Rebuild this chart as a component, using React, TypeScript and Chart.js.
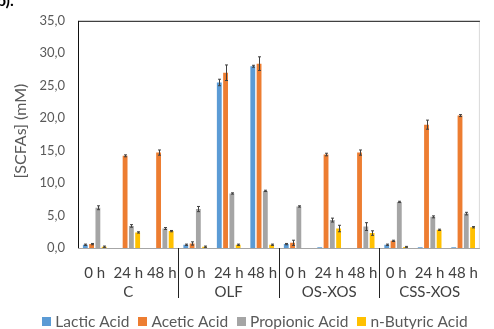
import React, { useEffect, useRef } from "react";
import { Chart, registerables } from "chart.js";

Chart.register(...registerables);

const timeLabels = ["0 h", "24 h", "48 h", "0 h", "24 h", "48 h", "0 h", "24 h", "48 h", "0 h", "24 h", "48 h"];
const groups = ["C", "OLF", "OS-XOS", "CSS-XOS"];
const yTicks = [0, 5, 10, 15, 20, 25, 30, 35];

const lactic = [0.5, 0, 0, 0.5, 25.5, 28.0, 0.6, 0.1, 0, 0.5, 0.1, 0.1];
const acetic = [0.6, 14.2, 14.7, 0.7, 27.0, 28.4, 0.8, 14.4, 14.7, 1.1, 19.0, 20.4];
const propionic = [6.2, 3.4, 3.0, 6.0, 8.4, 8.8, 6.4, 4.3, 3.3, 7.1, 4.8, 5.3];
const butyric = [0.2, 2.4, 2.6, 0.2, 0.5, 0.5, 0, 3.0, 2.3, 0.15, 2.8, 3.2];

const lacticErr = [0.1, 0, 0, 0.1, 0.5, 0.15, 0.1, 0, 0, 0.1, 0, 0];
const aceticErr = [0.1, 0.15, 0.4, 0.25, 1.2, 1.05, 0.4, 0.2, 0.4, 0.1, 0.7, 0.15];
const propionicErr = [0.3, 0.2, 0.15, 0.4, 0.1, 0.1, 0.1, 0.3, 0.6, 0.1, 0.15, 0.2];
const butyricErr = [0.1, 0.1, 0.1, 0.1, 0.1, 0.1, 0, 0.5, 0.35, 0.1, 0.1, 0.1];

const seriesNames = ["Lactic Acid", "Acetic Acid", "Propionic Acid", "n-Butyric Acid"];
const seriesColors = ["#5B9BD5", "#ED7D31", "#A5A5A5", "#FFC000"];

const FONT = "Lato, 'Open Sans', sans-serif";

const overlayPlugin = {
  id: "overlay",
  afterDatasetsDraw(chart: any) {
    const ctx = chart.ctx;
    const y = chart.scales.y;
    const errs = [lacticErr, aceticErr, propionicErr, butyricErr];
    ctx.save();
    ctx.strokeStyle = "#404040";
    ctx.lineWidth = 1;
    chart.data.datasets.forEach((ds: any, di: number) => {
      const meta = chart.getDatasetMeta(di);
      meta.data.forEach((el: any, i: number) => {
        const e = errs[di][i];
        const v = ds.data[i];
        if (!e) return;
        const x = Math.round(el.x) + 0.5;
        const yt = y.getPixelForValue(v + e);
        const yb = y.getPixelForValue(Math.max(0, v - e));
        ctx.beginPath();
        ctx.moveTo(x, yt);
        ctx.lineTo(x, yb);
        ctx.moveTo(x - 1.5, yt);
        ctx.lineTo(x + 1.5, yt);
        ctx.moveTo(x - 1.5, yb);
        ctx.lineTo(x + 1.5, yb);
        ctx.stroke();
      });
    });
    ctx.restore();
  },
  afterDraw(chart: any) {
    const ctx = chart.ctx;
    const a = chart.chartArea;
    ctx.save();
    ctx.lineWidth = 1;
    ctx.strokeStyle = "#d9d9d9";
    ctx.beginPath();
    ctx.moveTo(a.right - 0.5, a.top);
    ctx.lineTo(a.right - 0.5, a.bottom);
    ctx.stroke();
    ctx.strokeStyle = "#111";
    ctx.beginPath();
    ctx.moveTo(a.left + 0.5, a.top + 0.5);
    ctx.lineTo(a.right, a.top + 0.5);
    ctx.moveTo(a.left + 0.5, a.top);
    ctx.lineTo(a.left + 0.5, a.bottom);
    ctx.stroke();
    ctx.strokeStyle = "#a6a6a6";
    ctx.beginPath();
    ctx.moveTo(a.left, a.bottom + 0.5);
    ctx.lineTo(a.right, a.bottom + 0.5);
    ctx.stroke();

    const gw = (a.right - a.left) / groups.length;
    ctx.strokeStyle = "#222";
    for (let k = 1; k < groups.length; k++) {
      const x = Math.round(a.left + k * gw) + 0.5;
      ctx.beginPath();
      ctx.moveTo(x, a.bottom);
      ctx.lineTo(x, a.bottom + 50);
      ctx.stroke();
    }
    ctx.fillStyle = "#404040";
    ctx.font = `15px ${FONT}`;
    ctx.textAlign = "center";
    ctx.textBaseline = "middle";
    groups.forEach((g, k) => {
      ctx.fillText(g, a.left + (k + 0.5) * gw, 292);
    });

    ctx.save();
    ctx.translate(21, 131);
    ctx.rotate(-Math.PI / 2);
    ctx.fillStyle = "#595959";
    ctx.font = `16px ${FONT}`;
    ctx.fillText("[SCFAs] (mM)", 0, 0);
    ctx.restore();

    ctx.font = `15.5px ${FONT}`;
    const box = 9;
    const gapBox = 4;
    const gapItem = 9;
    const widths = seriesNames.map((n) => ctx.measureText(n).width);
    const total = widths.reduce((s, w) => s + box + gapBox + w, 0) + gapItem * (seriesNames.length - 1);
    let x = 255 - total / 2;
    const ly = 322;
    ctx.textAlign = "left";
    ctx.textBaseline = "middle";
    seriesNames.forEach((n, i) => {
      ctx.fillStyle = seriesColors[i];
      ctx.fillRect(Math.round(x), ly - 5, box, box);
      x += box + gapBox;
      ctx.fillStyle = "#595959";
      ctx.fillText(n, x, ly);
      x += widths[i] + gapItem;
    });

    ctx.fillStyle = "#000";
    ctx.font = `bold 16px ${FONT}`;
    ctx.textAlign = "left";
    ctx.textBaseline = "alphabetic";
    ctx.fillText("b).", -3, 6);
    ctx.restore();
  },
};

export default function App() {
  const ref = useRef<HTMLCanvasElement>(null);
  useEffect(() => {
    const datasets = [lactic, acetic, propionic, butyric].map((d, i) => ({
      label: seriesNames[i],
      data: d,
      backgroundColor: seriesColors[i],
      borderWidth: 0,
      categoryPercentage: 0.75,
      barPercentage: 0.77,
    }));
    const chart = new Chart(ref.current as HTMLCanvasElement, {
      type: "bar",
      data: { labels: timeLabels, datasets },
      options: {
        animation: false,
        responsive: false,
        devicePixelRatio: 1,
        layout: { padding: { top: 20, right: 1, left: 0, bottom: 0 } },
        plugins: { legend: { display: false }, tooltip: { enabled: false } },
        scales: {
          x: {
            grid: { display: false, drawTicks: false },
            border: { display: false },
            ticks: {
              font: { family: FONT, size: 15 },
              color: "#404040",
              padding: 16,
              maxRotation: 0,
              autoSkip: false,
            },
            afterFit: (s: any) => {
              s.height = 81;
            },
          },
          y: {
            min: 0,
            max: 35,
            grid: { display: false, drawTicks: false },
            border: { display: false },
            afterBuildTicks: (s: any) => {
              s.ticks = yTicks.map((v) => ({ value: v }));
            },
            ticks: {
              font: { family: FONT, size: 13 },
              color: "#595959",
              padding: 13,
              callback: (v: any) => Number(v).toFixed(1).replace(".", ","),
            },
            afterFit: (s: any) => {
              s.width = 78;
            },
          },
        },
      },
      plugins: [overlayPlugin],
    });
    return () => chart.destroy();
  }, []);
  return (
    <div style={{ position: "fixed", left: 0, top: 0, width: 494, height: 329, background: "#fff" }}>
      <canvas ref={ref} width={494} height={329} style={{ display: "block" }} />
    </div>
  );
}
